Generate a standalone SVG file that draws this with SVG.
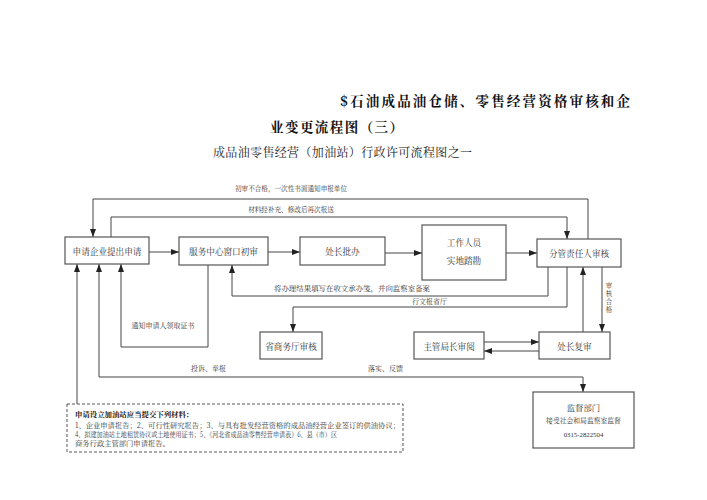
<svg xmlns="http://www.w3.org/2000/svg" width="707" height="500" viewBox="0 0 707 500">
<style>
text{font-family:"Noto Serif CJK SC","Noto Sans CJK SC","Liberation Serif",serif;fill:#333}
.box{fill:#fff;stroke:#555;stroke-width:1.2}
.bt{font-size:8.6px;text-anchor:middle;dominant-baseline:central}
.lb{font-size:7px;dominant-baseline:central}
.ln{fill:none;stroke:#444;stroke-width:1}
.title{font-weight:bold;fill:#111;font-size:13.5px}
.vt{font-size:6.4px;text-anchor:middle;dominant-baseline:central}
</style>
<defs>
<marker id="ah" viewBox="0 0 8 6" refX="8" refY="3" markerWidth="8" markerHeight="6" markerUnits="userSpaceOnUse" orient="auto-start-reverse">
<path d="M0,0 L8,3 L0,6 Z" fill="#222"/>
</marker>
</defs>
<rect width="707" height="500" fill="#fff"/>
<text class="title" x="340" y="106" textLength="290" lengthAdjust="spacing">$石油成品油仓储、零售经营资格审核和企</text>
<text class="title" x="270" y="132" textLength="133" lengthAdjust="spacing">业变更流程图（三）</text>
<text x="213" y="157" style="font-size:12px;fill:#222" textLength="259" lengthAdjust="spacing">成品油零售经营（加油站）行政许可流程图之一</text>

<g id="connectors">
<path class="ln" d="M149,252 H179" marker-end="url(#ah)"/>
<path class="ln" d="M268,252 H300" marker-end="url(#ah)"/>
<path class="ln" d="M385,253 H422" marker-end="url(#ah)"/>
<path class="ln" d="M506,253 H537" marker-end="url(#ah)"/>
<path class="ln" d="M588,239 V199 H93 V237" marker-end="url(#ah)"/>
<path class="ln" d="M111,237 V217 H567 V239" marker-end="url(#ah)"/>
<path class="ln" d="M208,265 V347 H121 V264" marker-end="url(#ah)"/>
<path class="ln" d="M548,267 V296 H232 V265" marker-end="url(#ah)"/>
<path class="ln" d="M567,267 V307 H293 V332" marker-end="url(#ah)"/>
<path class="ln" d="M583,332 V267" marker-end="url(#ah)"/>
<path class="ln" d="M602,267 V332" marker-end="url(#ah)"/>
<path class="ln" d="M484,342 H539" marker-end="url(#ah)"/>
<path class="ln" d="M539,351 H484" marker-end="url(#ah)"/>
<path class="ln" d="M99,264 V377 H583 V392" marker-start="url(#ah)" marker-end="url(#ah)"/>
<path class="ln" d="M77,404 V264" marker-end="url(#ah)"/>
<text class="lb" x="291" y="188" text-anchor="middle" style="font-size:6.6px">初审不合格，一次性书面通知申报单位</text>
<text class="lb" x="291" y="209" text-anchor="middle" style="font-size:6.6px">材料经补充、修改后再次报送</text>
<text class="lb" x="163" y="325" text-anchor="middle">通知申请人领取证书</text>
<text class="lb" x="274" y="288" textLength="156" lengthAdjust="spacingAndGlyphs">将办理结果填写在收文承办笺，并向监察室备案</text>
<text class="lb" x="412" y="301">行文报省厅</text>
<text class="lb" x="191" y="368">投诉、举报</text>
<text class="lb" x="368" y="368">落实、反馈</text>
<text class="vt" x="609" y="285">审</text>
<text class="vt" x="609" y="293">核</text>
<text class="vt" x="609" y="301">合</text>
<text class="vt" x="609" y="309">格</text>
</g>

<g id="n-apply"><rect class="box" x="65" y="237" width="84" height="27"/><text class="bt" x="107" y="250.5">申请企业提出申请</text></g>
<g id="n-service"><rect class="box" x="179" y="237" width="89" height="28"/><text class="bt" x="223.5" y="251">服务中心窗口初审</text></g>
<g id="n-chief"><rect class="box" x="300" y="237" width="85" height="28"/><text class="bt" x="342.5" y="251">处长批办</text></g>
<g id="n-staff"><rect class="box" x="422" y="225" width="84" height="55"/><text class="bt" x="464" y="242">工作人员</text><text class="bt" x="464" y="260">实地踏勘</text></g>
<g id="n-leader"><rect class="box" x="537" y="239" width="84" height="28"/><text class="bt" x="579" y="253">分管责任人审核</text></g>
<g id="n-province"><rect class="box" x="260" y="332" width="62" height="27"/><text class="bt" x="291" y="345.5">省商务厅审核</text></g>
<g id="n-director"><rect class="box" x="414" y="332" width="70" height="27"/><text class="bt" x="449" y="345.5">主管局长审阅</text></g>
<g id="n-recheck"><rect class="box" x="539" y="332" width="71" height="27"/><text class="bt" x="574.5" y="345.5">处长复审</text></g>
<g id="n-supervise"><rect class="box" x="533" y="392" width="101" height="56"/>
<text class="bt" x="583.5" y="407" style="font-size:8.4px">监督部门</text>
<text class="bt" x="583.5" y="420" style="font-size:6.8px">接受社会和局监察室监督</text>
<text class="bt" x="583.5" y="434" style="font-size:6.8px;font-family:'Liberation Serif',serif">0315-2822504</text></g>
<g id="n-materials"><rect x="67" y="404" width="336" height="48" fill="#fff" stroke="#555" stroke-width="1" stroke-dasharray="3,2"/>
<text x="75" y="413" style="font-size:7.4px;font-weight:bold;fill:#111" dominant-baseline="central">申请设立加油站应当提交下列材料：</text>
<text x="75" y="425" style="font-size:7.3px" dominant-baseline="central" textLength="325" lengthAdjust="spacingAndGlyphs">1、企业申请报告；2、可行性研究报告；3、与具有批发经营资格的成品油经营企业签订的供油协议；</text>
<text x="75" y="434" style="font-size:7.3px" dominant-baseline="central" textLength="262" lengthAdjust="spacingAndGlyphs">4、拟建加油站土地租赁协议或土地使用证书；5、《河北省成品油零售经营申请表》6、县（市）区</text>
<text x="75" y="443" style="font-size:7.3px" dominant-baseline="central">商务行政主管部门申请报告。</text></g>
</svg>
